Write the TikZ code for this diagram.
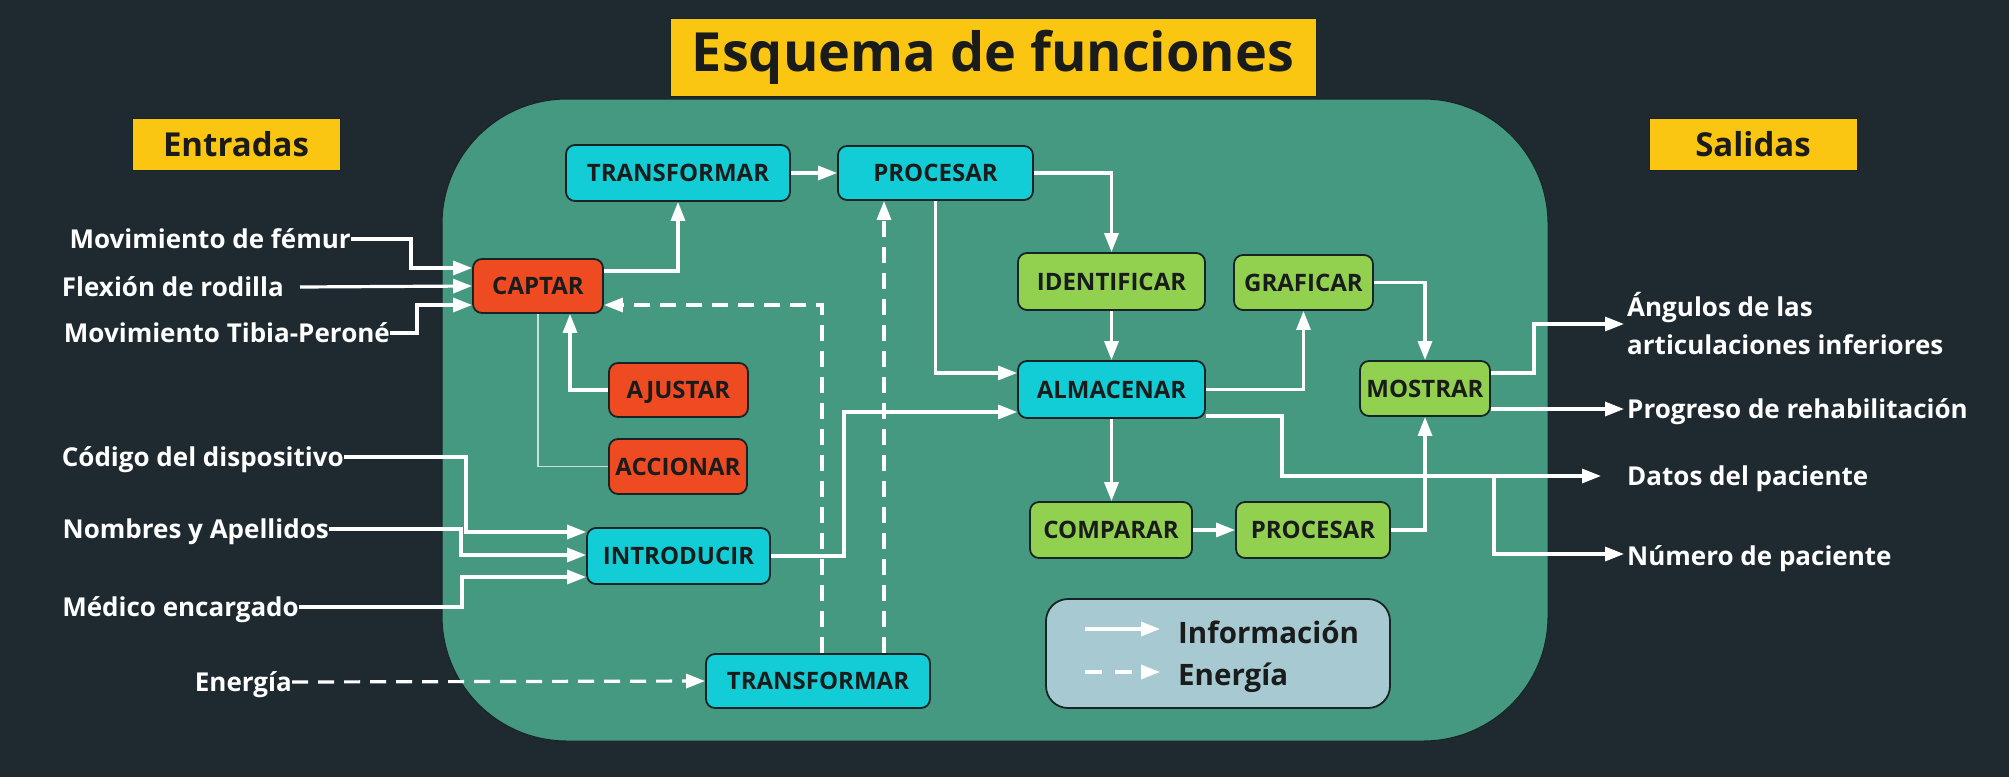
\documentclass[tikz,border=0pt]{standalone}
\usepackage{fontspec}
\setmainfont{Open Sans}
\usetikzlibrary{arrows.meta}
\definecolor{bg}{RGB}{30,42,48}
\definecolor{panel}{RGB}{70,153,129}
\definecolor{ybox}{RGB}{250,198,18}
\definecolor{cy}{RGB}{18,205,214}
\definecolor{rd}{RGB}{239,75,35}
\definecolor{gr}{RGB}{146,208,80}
\definecolor{leg}{RGB}{167,202,210}
\definecolor{ink}{RGB}{26,28,28}
\definecolor{edge}{RGB}{24,36,36}
\definecolor{thinl}{RGB}{200,225,215}
\tikzset{
  fbox/.style={draw=edge, line width=1.8pt, rounded corners=9pt, text=ink,
    font=\bfseries\fontsize{24}{24}\selectfont, text height=17pt, text depth=0pt, inner sep=0pt},
  cybox/.style={fbox, fill=cy},
  rdbox/.style={fbox, fill=rd},
  grbox/.style={fbox, fill=gr},
  lbl/.style={text=white, font=\bfseries\fontsize{26}{38}\selectfont, inner sep=0pt, text height=18.5pt, text depth=0pt},
  ytag/.style={fill=ybox, draw=edge, line width=1pt, text=ink, inner sep=0pt},
  info/.style={draw=white, line width=3.2pt, -{Triangle[length=19pt,width=14pt]}},
  energy/.style={info, dash pattern=on 16pt off 10pt},
  legtext/.style={text=ink, font=\bfseries\fontsize{29.5}{29.5}\selectfont, inner sep=0pt, text height=21pt, text depth=0pt},
}
\begin{document}
\begin{tikzpicture}[x=1pt,y=-1pt]
\fill[bg] (0,0) rectangle (2009,777);
\useasboundingbox (0,0) rectangle (2009,777);
% container
\node[fill=panel, draw=edge, line width=1pt, rounded corners=125pt, minimum width=1106pt, minimum height=642pt, inner sep=0pt] (panel) at (995,420) {};
% title and tags
\node[ytag, minimum width=646pt, minimum height=78pt, font=\bfseries\fontsize{54}{54}\selectfont] (title) at (993,57) {Esquema de funciones};
\node[ytag, minimum width=208pt, minimum height=52pt, font=\bfseries\fontsize{33}{33}\selectfont] (entradas) at (236,144) {Entradas};
\node[ytag, minimum width=208pt, minimum height=52pt, font=\bfseries\fontsize{33}{33}\selectfont] (salidas) at (1753,144) {Salidas};
% function boxes
\node[rdbox, minimum width=130pt, minimum height=54pt] (captar) at (538,286) {CAPTAR};
\node[cybox, minimum width=224pt, minimum height=56pt] (trans1) at (678,173) {TRANSFORMAR};
\node[cybox, minimum width=195pt, minimum height=54pt] (proc1) at (935.5,173) {PROCESAR};
\node[rdbox, minimum width=139pt, minimum height=54pt] (ajustar) at (678.5,390) {AJUSTAR};
\node[rdbox, minimum width=138pt, minimum height=55pt] (accionar) at (678,466.5) {ACCIONAR};
\node[cybox, minimum width=183pt, minimum height=56pt] (introducir) at (678.5,556) {INTRODUCIR};
\node[cybox, minimum width=224pt, minimum height=54pt] (trans2) at (818,681) {TRANSFORMAR};
\node[grbox, minimum width=187pt, minimum height=57pt] (identificar) at (1111.5,281.5) {IDENTIFICAR};
\node[grbox, minimum width=139pt, minimum height=55pt] (graficar) at (1303.5,282.5) {GRAFICAR};
\node[cybox, minimum width=187pt, minimum height=57pt] (almacenar) at (1111.5,389.5) {ALMACENAR};
\node[grbox, minimum width=130pt, minimum height=55pt] (mostrar) at (1425,388.5) {MOSTRAR};
\node[grbox, minimum width=162pt, minimum height=56pt] (comparar) at (1111,530) {COMPARAR};
\node[grbox, minimum width=154pt, minimum height=56pt] (proc2) at (1313,530) {PROCESAR};
% legend
\node[fill=leg, draw=edge, line width=1.8pt, rounded corners=22pt, minimum width=344pt, minimum height=109pt, inner sep=0pt] (legend) at (1218,653.5) {};
\coordinate (lia) at (1085,629);
\coordinate (lib) at (1160,629);
\coordinate (lea) at (1085,672);
\coordinate (leb) at (1160,672);
\draw[info] (lia) -- (lib);
\draw[info, dash pattern=on 17pt off 13pt] (lea) -- (leb);
\node[legtext, anchor=west] (linfo) at (1178,633) {Información};
\node[legtext, anchor=west] (lener) at (1178,675) {Energía};
% input labels
\node[lbl, anchor=east] (femur) at (351,239) {Movimiento de fémur};
\node[lbl, anchor=east] (rodilla) at (284,287) {Flexión de rodilla};
\node[lbl, anchor=east] (tibia) at (390,333) {Movimiento Tibia-Peroné};
\node[lbl, anchor=east] (codigo) at (344,457) {Código del dispositivo};
\node[lbl, anchor=east] (nombres) at (329,529) {Nombres y Apellidos};
\node[lbl, anchor=east] (medico) at (299,607) {Médico encargado};
\node[lbl, anchor=east] (energia) at (292,682) {Energía};
% output labels
\node[lbl, anchor=base west, align=left] (angulos) at (1627,354) {Ángulos de las\\articulaciones inferiores};
\node[lbl, anchor=west] (progreso) at (1627,409) {Progreso de rehabilitación};
\node[lbl, anchor=west] (datos) at (1627,476) {Datos del paciente};
\node[lbl, anchor=west] (numero) at (1627,556) {Número de paciente};
% input connectors
\draw[info] (femur.east) -| (411,268) -- (captar.west |- 0,268);
\draw[info] ([xshift=16pt]rodilla.east) -- (captar.west);
\draw[info] (tibia.east) -| (417,305) -- (captar.west |- 0,305);
\draw[info] (codigo.east) -| (466,532) -- (introducir.west |- 0,532);
\draw[info] (nombres.east) -| (461,555) -- (introducir.west |- 0,555);
\draw[info] (medico.east) -| (462,577) -- (introducir.west |- 0,577);
\draw[energy] (energia.east) -- (trans2.west);
% internal connectors
\draw[info] (captar.east |- 0,271) -| (trans1.south);
\draw[info] (trans1.east) -- (proc1.west);
\draw[info] (ajustar.west) -| (captar.south -| 570,0);
\draw[draw=thinl, line width=1.2pt] (captar.south) |- (accionar.west);
\draw[energy] (trans2.north -| 822,0) |- (captar.east |- 0,305);
\draw[energy] (trans2.north -| 884,0) -- (proc1.south -| 884,0);
\draw[info] (introducir.east) -| (844,412) -- (almacenar.west |- 0,412);
\draw[info] (proc1.east) -| (identificar.north);
\draw[info] (proc1.south) |- (almacenar.west |- 0,373);
\draw[info] (identificar.south) -- (almacenar.north);
\draw[info] (almacenar.east) -| (graficar.south);
\draw[info] (graficar.east) -| (mostrar.north);
\draw[info] (almacenar.south) -- (almacenar.south |- comparar.north);
\draw[info] (comparar.east) -- (proc2.west);
\draw[info] (proc2.east) -| (mostrar.south);
% output connectors
\coordinate (split) at (1494,476);
\coordinate (angtip) at (1624,324);
\draw[info] (almacenar.east |- 0,416) -| (1282,476) -- ([xshift=-26pt]datos.west);
\draw[info] (split) |- ([xshift=-3pt]numero.west |- 0,554);
\draw[info] (mostrar.east |- 0,373) -| (1534,324) -- (angtip);
\draw[info] (mostrar.east |- 0,409) -- ([xshift=-3pt]progreso.west);
\end{tikzpicture}
\end{document}
